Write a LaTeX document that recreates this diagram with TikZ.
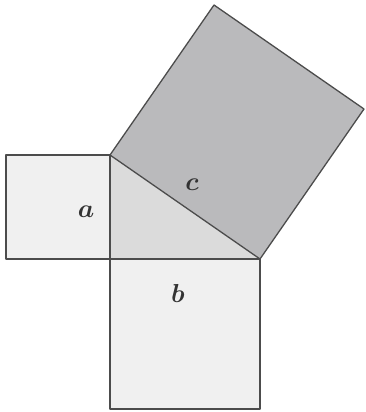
\documentclass[tikz,border=0pt]{standalone}
\begin{document}
\begin{tikzpicture}[x=1pt,y=-1pt,
  edge/.style={draw=black!70, line width=1.3pt, line join=round},
  lbl/.style={scale=2.6, text=black!80, font=\boldmath}]
\useasboundingbox (0,0) rectangle (365,412);
\coordinate (A) at (110,155);
\coordinate (C) at (110,259);
\coordinate (B) at (260,259);
\coordinate (P) at (6,155);
\coordinate (Q) at (6,259);
\coordinate (R) at (110,409);
\coordinate (S) at (260,409);
\coordinate (T) at (214,5);
\coordinate (U) at (364,109);
\fill[black!6] (P) -- (A) -- (C) -- (Q) -- cycle;
\fill[black!6] (C) -- (B) -- (S) -- (R) -- cycle;
\fill[black!14] (A) -- (B) -- (C) -- cycle;
\fill[blue!3!black!27] (A) -- (T) -- (U) -- (B) -- cycle;
\draw[edge] (P) -- (A) -- (C) -- (Q) -- cycle;
\draw[edge] (C) -- (B) -- (S) -- (R) -- cycle;
\draw[edge] (A) -- (T) -- (U) -- (B) -- cycle;
\node[lbl] (la) at (86,212) {$a$};
\node[lbl] (lc) at (192,185) {$c$};
\node[lbl] (lb) at (178,293) {$b$};
\end{tikzpicture}
\end{document}
